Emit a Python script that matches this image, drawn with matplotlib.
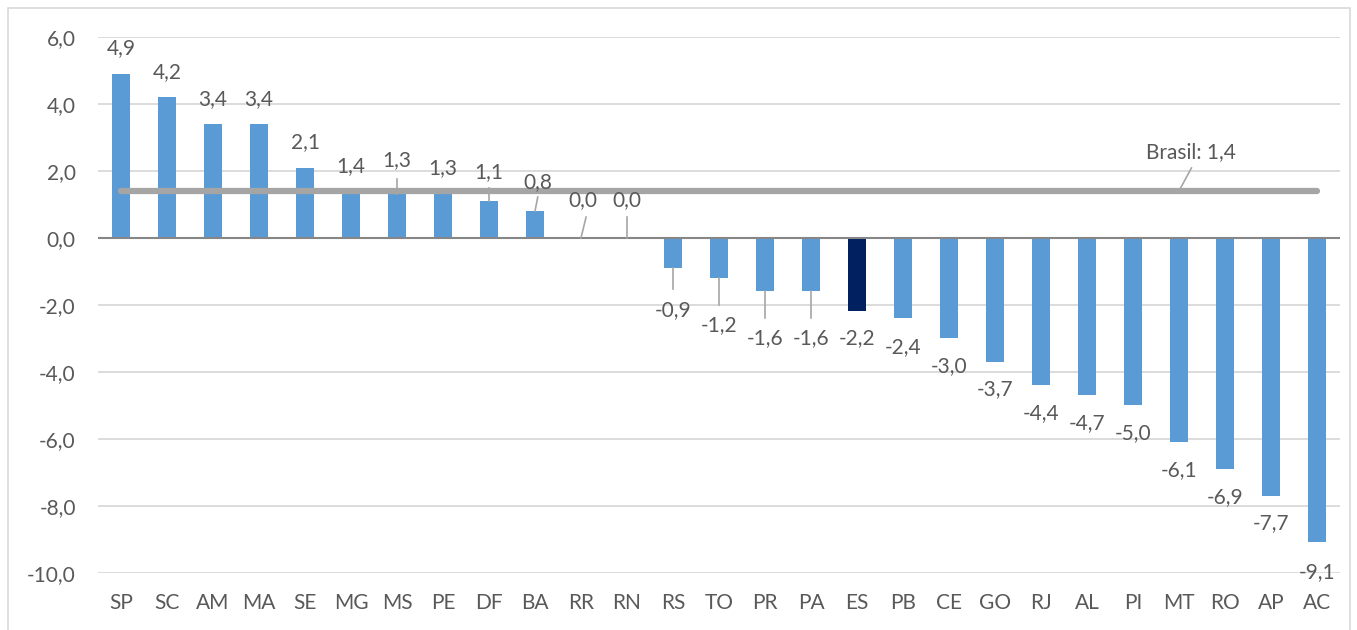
import matplotlib
matplotlib.use("Agg")
import matplotlib.pyplot as plt
from matplotlib.patches import Rectangle

states = ["SP", "SC", "AM", "MA", "SE", "MG", "MS", "PE", "DF", "BA", "RR", "RN", "RS", "TO",
          "PR", "PA", "ES", "PB", "CE", "GO", "RJ", "AL", "PI", "MT", "RO", "AP", "AC"]
values = [4.9, 4.2, 3.4, 3.4, 2.1, 1.4, 1.3, 1.3, 1.1, 0.8, 0.0, 0.0, -0.9, -1.2,
          -1.6, -1.6, -2.2, -2.4, -3.0, -3.7, -4.4, -4.7, -5.0, -6.1, -6.9, -7.7, -9.1]
brasil = 1.4
highlight = "ES"
yticks = [6, 4, 2, 0, -2, -4, -6, -8, -10]

# label positions (data y of label centre) and leader lines (start y, end y, top x shift)
label_y = [5.67, 4.96, 4.15, 4.15, 2.86, 2.15, 2.33, 2.09, 1.97, 1.67, 1.13, 1.13, -2.15, -2.60,
           -2.98, -2.98, -2.98, -3.25, -3.82, -4.51, -5.24, -5.53, -5.83, -6.93, -7.74, -8.51, -9.98]
label_dx = [0, 0, 0, 0, 0, 0, 0, 0, 0, 0.06, 0.05, 0, 0, 0,
            0, 0, 0, 0, 0, 0, 0, 0, 0, 0, 0, 0, 0]
leaders = {"MS": (1.3, 1.76, 0.0), "DF": (1.1, 1.49, 0.0), "BA": (0.8, 1.22, 0.06),
           "RR": (0.0, 0.62, 0.11), "RN": (0.0, 0.62, 0.0), "RS": (-0.9, -1.53, 0.0),
           "TO": (-1.2, -2.0, 0.0), "PR": (-1.6, -2.39, 0.0), "PA": (-1.6, -2.39, 0.0)}

W, H = 1357, 630
fig = plt.figure(figsize=(W / 100, H / 100), dpi=100)
fig.patch.set_facecolor("white")
ax = fig.add_axes([98 / W, 1 - 572.6 / H, (1340 - 98) / W, (572.6 - 37) / H])

fam = ["Lato", "DejaVu Sans"]
fs = 15
tc = "#595959"
base = "#5B9BD5"
dark = "#002060"

x = list(range(len(states)))
colors = [dark if s == highlight else base for s in states]
ax.bar(x, values, width=0.39, color=colors, zorder=3)

ax.plot([x[0], x[-1]], [brasil, brasil], color="#A5A5A5", lw=4.5,
        solid_capstyle="round", zorder=4)

ax.set_xlim(-0.5, len(states) - 0.5)
ax.set_ylim(-10, 6)
ax.set_yticks(yticks)
ax.set_yticklabels([f"{t:.1f}".replace(".", ",") for t in yticks], fontfamily=fam,
                   fontsize=fs, color=tc)
ax.set_xticks(x)
ax.set_xticklabels(states, fontfamily=fam, fontsize=fs, color=tc)
ax.tick_params(axis="both", length=0)
ax.tick_params(axis="y", pad=16)
ax.tick_params(axis="x", pad=15)
for sp in ax.spines.values():
    sp.set_visible(False)
for t in yticks:
    if t != 0:
        ax.axhline(t, color="#D9D9D9", lw=1.3, zorder=1)
ax.axhline(0, color="#868686", lw=1.5, zorder=5)

for i, (s, v) in enumerate(zip(states, values)):
    ax.text(i + label_dx[i], label_y[i], f"{v:.1f}".replace(".", ","), ha="center",
            va="center", fontfamily=fam, fontsize=fs, color=tc, zorder=6)
    if s in leaders:
        y0, y1, dx = leaders[s]
        ax.plot([i, i + dx], [y0, y1], color="#A6A6A6", lw=1.2, zorder=6)

# Brasil label
ax.text(23.25, (237.9 - 152) / 33.48, f"Brasil: {brasil:.1f}".replace(".", ","), ha="center",
        va="center", fontfamily=fam, fontsize=fs, color=tc, zorder=6)
ax.plot([23.0, 23.27], [brasil, (237.9 - 168) / 33.48], color="#A6A6A6", lw=1.2, zorder=6)

fig.patches.append(Rectangle((8 / W, -0.05), (1350 - 8) / W, 1 - 8 / H + 0.05,
                             transform=fig.transFigure, fill=False, edgecolor="#D9D9D9",
                             lw=1.2))

fig.savefig("out.png", dpi=100)
